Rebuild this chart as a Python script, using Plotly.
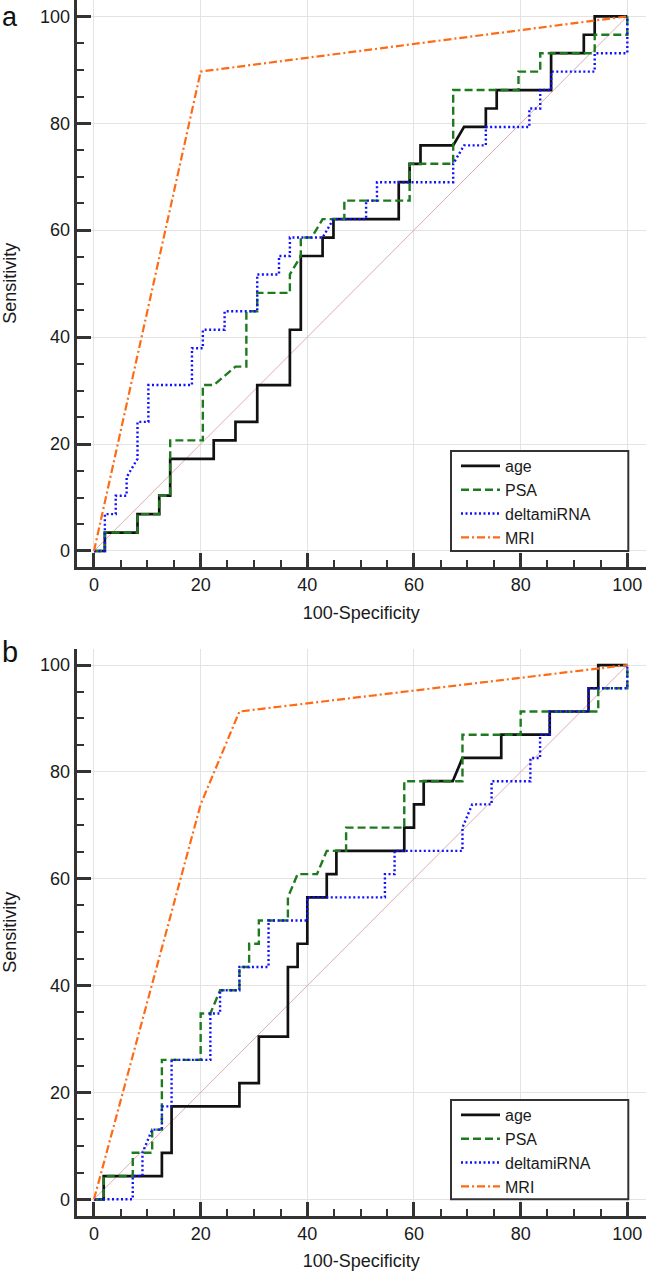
import plotly.graph_objects as go

# ---------------- Panel a data ----------------
age_a_x = [0, 2.04, 2.04, 8.16, 8.16, 12.24, 12.24, 14.29, 14.29, 22.45, 22.45, 26.53, 26.53, 30.61, 30.61,
           36.73, 36.73, 38.78, 38.78, 42.86, 42.86, 44.9, 44.9, 57.14, 57.14, 59.18, 59.18, 61.22, 61.22,
           67.35, 69.39, 73.47, 73.47, 75.51, 75.51, 85.71, 85.71, 91.84, 91.84, 93.88, 93.88, 100]
age_a_y = [0, 0, 3.45, 3.45, 6.9, 6.9, 10.34, 10.34, 17.24, 17.24, 20.69, 20.69, 24.14, 24.14, 31.03,
           31.03, 41.38, 41.38, 55.17, 55.17, 58.62, 58.62, 62.07, 62.07, 68.97, 68.97, 72.41, 72.41, 75.86,
           75.86, 79.31, 79.31, 82.76, 82.76, 86.21, 86.21, 93.1, 93.1, 96.55, 96.55, 100, 100]

psa_a_x = [0, 2.04, 2.04, 8.16, 8.16, 12.24, 12.24, 14.29, 14.29, 20.41, 20.41, 22.45, 26.53, 28.57, 28.57,
           30.61, 30.61, 36.73, 36.73, 38.78, 38.78, 40.82, 42.86, 46.94, 46.94, 59.18, 59.18, 67.35, 67.35,
           79.59, 79.59, 83.67, 83.67, 93.88, 93.88, 100, 100]
psa_a_y = [0, 0, 3.45, 3.45, 6.9, 6.9, 10.34, 10.34, 20.69, 20.69, 31.03, 31.03, 34.48, 34.48, 44.83,
           44.83, 48.28, 48.28, 51.72, 55.17, 58.62, 58.62, 62.07, 62.07, 65.52, 65.52, 72.41, 72.41, 86.21,
           86.21, 89.66, 89.66, 93.1, 93.1, 96.55, 96.55, 100]

mir_a_x = [0, 2.04, 2.04, 4.08, 4.08, 6.12, 6.12, 8.16, 8.16, 10.2, 10.2, 18.37, 18.37, 20.41, 20.41,
           24.49, 24.49, 30.61, 30.61, 34.69, 34.69, 36.73, 36.73, 42.86, 44.9, 51.02, 51.02, 53.06, 53.06,
           67.35, 67.35, 69.39, 73.47, 73.47, 81.63, 81.63, 83.67, 83.67, 85.71, 85.71, 93.88, 93.88, 100, 100]
mir_a_y = [0, 0, 6.9, 6.9, 10.34, 10.34, 13.79, 17.24, 24.14, 24.14, 31.03, 31.03, 37.93, 37.93, 41.38,
           41.38, 44.83, 44.83, 51.72, 51.72, 55.17, 55.17, 58.62, 58.62, 62.07, 62.07, 65.52, 65.52, 68.97,
           68.97, 72.41, 75.86, 75.86, 79.31, 79.31, 82.76, 82.76, 86.21, 86.21, 89.66, 89.66, 93.1, 93.1, 100]

mri_a_x = [0, 20.0, 100]
mri_a_y = [0, 89.66, 100]

# ---------------- Panel b data ----------------
age_b_x = [0, 1.82, 1.82, 12.73, 12.73, 14.55, 14.55, 27.27, 27.27, 30.91, 30.91, 36.36, 36.36, 38.18,
           38.18, 40, 40, 43.64, 43.64, 45.45, 45.45, 58.18, 58.18, 60, 60, 61.82, 61.82, 67.27, 69.09,
           76.36, 76.36, 85.45, 85.45, 92.73, 92.73, 94.55, 94.55, 100]
age_b_y = [0, 0, 4.35, 4.35, 8.7, 8.7, 17.39, 17.39, 21.74, 21.74, 30.43, 30.43, 43.48, 43.48,
           47.83, 47.83, 56.52, 56.52, 60.87, 60.87, 65.22, 65.22, 69.57, 69.57, 73.91, 73.91, 78.26, 78.26,
           82.61, 82.61, 86.96, 86.96, 91.3, 91.3, 95.65, 95.65, 100, 100]

psa_b_x = [0, 1.82, 1.82, 7.27, 7.27, 10.91, 10.91, 12.73, 12.73, 20, 20, 21.82, 23.64, 27.27, 27.27,
           29.09, 29.09, 30.91, 30.91, 36.36, 36.36, 38.18, 41.82, 43.64, 47.27, 47.27, 58.18, 58.18, 69.09,
           69.09, 80, 80, 94.55, 94.55, 100, 100]
psa_b_y = [0, 0, 4.35, 4.35, 8.7, 8.7, 13.04, 13.04, 26.09, 26.09, 34.78, 34.78, 39.13, 39.13, 43.48,
           43.48, 47.83, 47.83, 52.17, 52.17, 56.52, 60.87, 60.87, 65.22, 65.22, 69.57, 69.57, 78.26, 78.26,
           86.96, 86.96, 91.3, 91.3, 95.65, 95.65, 100]

mir_b_x = [0, 7.27, 7.27, 9.09, 9.09, 10.91, 12.73, 12.73, 14.55, 14.55, 21.82, 21.82, 23.64, 23.64,
           27.27, 27.27, 32.73, 32.73, 40, 40, 54.55, 54.55, 56.36, 56.36, 69.09, 69.09, 70.91, 74.55, 74.55,
           81.82, 81.82, 83.64, 83.64, 85.45, 85.45, 92.73, 92.73, 100, 100]
mir_b_y = [0, 0, 4.35, 4.35, 8.7, 13.04, 13.04, 17.39, 17.39, 26.09, 26.09, 34.78, 34.78, 39.13,
           39.13, 43.48, 43.48, 52.17, 52.17, 56.52, 56.52, 60.87, 60.87, 65.22, 65.22, 69.57, 73.91, 73.91, 78.26,
           78.26, 82.61, 82.61, 86.96, 86.96, 91.3, 91.3, 95.65, 95.65, 100]

mri_b_x = [0, 20, 27.27, 100]
mri_b_y = [0, 73.91, 91.3, 100]

diag = [0, 100]

series_names = ["age", "PSA", "deltamiRNA", "MRI"]
tick_vals = [0, 20, 40, 60, 80, 100]

# ---------------- Styles ----------------
W, H = 646, 1271
FONT = "Liberation Sans, Arial, sans-serif"
FS = 18
styles = {
    "age": dict(color="#111111", width=2.7, dash="solid"),
    "PSA": dict(color="#1e7a1e", width=2.4, dash="8px,4px"),
    "deltamiRNA": dict(color="#1010ff", width=2.4, dash="2px,2.5px"),
    "MRI": dict(color="#ff6a13", width=2.2, dash="8px,3px,2px,3px"),
}

fig = go.Figure()

panels = [
    ("a", [(age_a_x, age_a_y), (psa_a_x, psa_a_y), (mir_a_x, mir_a_y), (mri_a_x, mri_a_y)], "x", "y", "legend"),
    ("b", [(age_b_x, age_b_y), (psa_b_x, psa_b_y), (mir_b_x, mir_b_y), (mri_b_x, mri_b_y)], "x2", "y2", "legend2"),
]

for label, data, xa, ya, lg in panels:
    fig.add_trace(go.Scatter(x=diag, y=diag, mode="lines", xaxis=xa, yaxis=ya, showlegend=False,
                             line=dict(color="#d9aeb3", width=1), hoverinfo="skip"))
    for name, (xs, ys) in zip(series_names, data):
        fig.add_trace(go.Scatter(x=xs, y=ys, mode="lines", name=name, xaxis=xa, yaxis=ya,
                                 legend=lg, line=styles[name]))

xdom = [76.7 / W, 1.0]
ydom_a = [(H - 566.7) / H, 1.0]
ydom_b = [(H - 1215.7) / H, (H - 649) / H]

axis_common = dict(
    showline=True, linecolor="#333333", linewidth=3,
    showgrid=True, gridcolor="#e3e3e3", gridwidth=1,
    zeroline=False, ticks="inside", ticklen=14, tickwidth=2.5, tickcolor="#333333",
    tickmode="array", tickvals=tick_vals,
    minor=dict(ticks="inside", ticklen=7, tickwidth=2, tickcolor="#333333", dtick=5, tick0=0, showgrid=False),
    tickfont=dict(family=FONT, size=FS, color="#1a1a1a"),
    title_font=dict(family=FONT, size=FS, color="#1a1a1a"),
)

# legend boxes (pixel geometry of the frames)
box_left, box_right = 451.0, 628.3
box_a_top, box_a_bot = 451.0, 551.0
box_b_top, box_b_bot = 1100.0, 1199.3

legend_common = dict(
    xanchor="left", yanchor="top",
    borderwidth=0, bgcolor="rgba(0,0,0,0)",
    font=dict(family=FONT, size=16, color="#1a1a1a"), itemwidth=39,
)

shapes = []
for top, bot in [(box_a_top, box_a_bot), (box_b_top, box_b_bot)]:
    shapes.append(dict(type="rect", xref="paper", yref="paper", layer="above",
                       x0=box_left / W, x1=box_right / W, y0=(H - bot) / H, y1=(H - top) / H,
                       line=dict(color="#333333", width=2), fillcolor="white"))

fig.update_layout(
    width=W, height=H, margin=dict(l=0, r=0, t=0, b=0),
    paper_bgcolor="white", plot_bgcolor="white",
    xaxis=dict(domain=xdom, anchor="y", range=[-3.24, 103.5], title=dict(text="100-Specificity", standoff=13), **axis_common),
    yaxis=dict(domain=ydom_a, anchor="x", range=[-2.94, 103.05], title=dict(text="Sensitivity", standoff=20), **axis_common),
    xaxis2=dict(domain=xdom, anchor="y2", range=[-3.24, 103.5], title=dict(text="100-Specificity", standoff=13), **axis_common),
    yaxis2=dict(domain=ydom_b, anchor="x2", range=[-3.07, 103.0], title=dict(text="Sensitivity", standoff=20), **axis_common),
    legend=dict(x=(box_left + 5) / W, y=(H - box_a_top + 2) / H, **legend_common),
    legend2=dict(x=(box_left + 5) / W, y=(H - box_b_top + 2) / H, **legend_common),
    shapes=shapes,
    annotations=[
        dict(text="a", x=0.0, y=1.0, xref="paper", yref="paper", xanchor="left", yanchor="top",
             showarrow=False, font=dict(family=FONT, size=27, color="#111111")),
        dict(text="b", x=0.0, y=(H - 670) / H, xref="paper", yref="paper", xanchor="left", yanchor="bottom",
             showarrow=False, font=dict(family=FONT, size=29, color="#111111")),
    ],
)

fig.write_html("out.html", config={"displayModeBar": False},
               post_script="document.body.style.margin='0';")
